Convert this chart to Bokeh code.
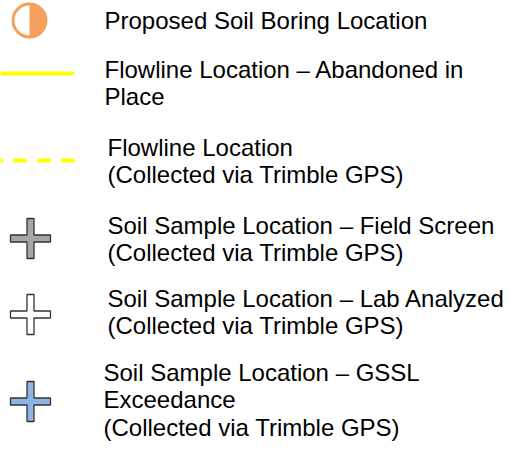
from bokeh.plotting import figure
from bokeh.models import Range1d, ColumnDataSource
from bokeh.embed import file_html
from bokeh.resources import INLINE
from bokeh.core.properties import value

# ---- legend content ----
entry_lines = [
    ["Proposed Soil Boring Location"],
    ["Flowline Location \u2013 Abandoned in", "Place"],
    ["Flowline Location", "(Collected via Trimble GPS)"],
    ["Soil Sample Location \u2013 Field Screen", "(Collected via Trimble GPS)"],
    ["Soil Sample Location \u2013 Lab Analyzed", "(Collected via Trimble GPS)"],
    ["Soil Sample Location \u2013 GSSL", "Exceedance", "(Collected via Trimble GPS)"],
]
cross_fills = ["#A6A6A6", "#FFFFFF", "#8EB4E3"]

# ---- layout (reference pixel coordinates) ----
text_x = [107, 107, 110, 110, 110, 106]
text_y0 = [33, 82, 160, 238, 311, 385]
line_step = 27.8
baseline_fix = -6.5  # renderer places alphabetic baseline slightly low
circle_center = (32, 27)
solid_line_y = 80
dashed_line_y = 167
cross_centers = [(33, 245), (33, 321), (33, 408)]

ORANGE = "#F5A15D"
YELLOW = "#FFFF00"

p = figure(width=505, height=444, output_backend="svg", toolbar_location=None,
           x_range=Range1d(3, 508), y_range=Range1d(451, 7),
           x_axis_type=None, y_axis_type=None, min_border=0,
           background_fill_color="white", border_fill_color="white")
p.grid.visible = False
p.outline_line_color = None

# Proposed soil boring: half-filled circle
cx, cy = circle_center
p.scatter([cx], [cy], marker="circle", size=33, fill_color="white",
          line_color=ORANGE, line_width=3)
p.wedge([cx], [cy], radius=16.5, radius_units="screen", start_angle=-90,
        end_angle=90, start_angle_units="deg", end_angle_units="deg",
        fill_color=ORANGE, line_color=None)

# Flowline solid and dashed
p.line([-3, 75], [solid_line_y, solid_line_y], line_color=YELLOW, line_width=4,
       line_cap="round")
p.line([76, -4], [dashed_line_y, dashed_line_y], line_color=YELLOW, line_width=4,
       line_cap="round", line_dash="11 13")

# Crosses
L, t = 20, 3.5
xs, ys = [], []
for (x0, y0) in cross_centers:
    xs.append([x0 - t, x0 + t, x0 + t, x0 + L, x0 + L, x0 + t, x0 + t, x0 - t,
               x0 - t, x0 - L, x0 - L, x0 - t])
    ys.append([y0 - L, y0 - L, y0 - t, y0 - t, y0 + t, y0 + t, y0 + L, y0 + L,
               y0 + t, y0 + t, y0 - t, y0 - t])
p.patches(xs, ys, fill_color=cross_fills, line_color="#333333", line_width=1.3)

# Texts
tx, ty, tt = [], [], []
for i, lines in enumerate(entry_lines):
    for j, s in enumerate(lines):
        tx.append(text_x[i])
        ty.append(text_y0[i] + j * line_step + baseline_fix)
        tt.append(s)
src = ColumnDataSource(dict(x=tx, y=ty, text=tt))
p.text(x="x", y="y", text="text", source=src, text_font=value("Liberation Sans"),
       text_font_size="24px", text_color="#000000", text_baseline="alphabetic",
       text_align="left")

open("out.html", "w").write(file_html(p, INLINE))
